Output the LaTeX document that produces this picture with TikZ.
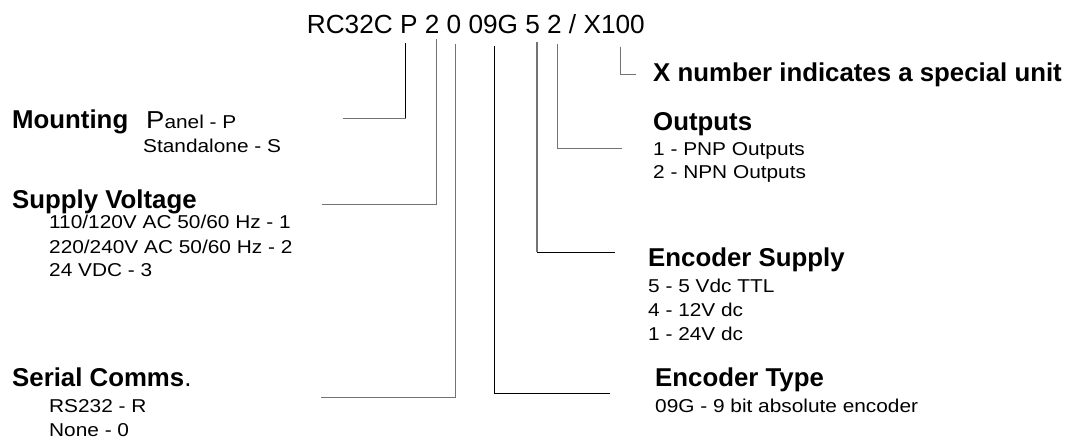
\documentclass[tikz,border=0pt]{standalone}
\usepackage{fontspec}
\setmainfont{Liberation Sans}
\newfontfamily\descfont[FakeStretch=1.12]{Liberation Sans}
\begin{document}
\begin{tikzpicture}[x=1pt,y=-1pt,
  txt/.style={anchor=base west,inner sep=0pt,font=\descfont\fontsize{18.6}{22}\selectfont},
  head/.style={anchor=base west,inner sep=0pt,font=\fontsize{25.8}{30}\selectfont\bfseries},
  code/.style={anchor=base west,inner sep=0pt,font=\fontsize{26.2}{30}\selectfont},
  gline/.style={draw=black!55,line width=1.1pt},
  bline/.style={draw=black,line width=0.9pt}]
\useasboundingbox[fill=white] (0,0) rectangle (1077,440);
% code
\node[code] (code) at (306.7,33.3) {RC32C P 2 0 09G 5 2 / X100};
% left labels
\node[head] (mount) at (12,128) {Mounting};
\node[txt] (panel) at (146,128) {{\fontsize{24.5}{30}\selectfont P}anel - P};
\node[txt] (stand) at (143,152.5) {Standalone - S};
\node[head] (supply) at (12,208) {Supply Voltage};
\node[txt] (sv1) at (49,228) {110/120V AC 50/60 Hz - 1};
\node[txt] (sv2) at (49,253) {220/240V AC 50/60 Hz - 2};
\node[txt] (sv3) at (49,276.5) {24 VDC - 3};
\node[head] (serial) at (12,386) {Serial Comms{\mdseries.}};
\node[txt] (sc1) at (49,412.5) {RS232 - R};
\node[txt] (sc2) at (49,436) {None - 0};
% right labels
\node[head] (xnum) at (653,81.7) {X number indicates a special unit};
\node[head] (outp) at (653,130) {Outputs};
\node[txt] (o1) at (653,155) {1 - PNP Outputs};
\node[txt] (o2) at (653,178.5) {2 - NPN Outputs};
\node[head] (esup) at (648,266) {Encoder Supply};
\node[txt] (e1) at (648,292) {5 - 5 Vdc TTL};
\node[txt] (e2) at (648,316.5) {4 - 12V dc};
\node[txt] (e3) at (648,340) {1 - 24V dc};
\node[head] (etype) at (655,386) {Encoder Type};
\node[txt] (et1) at (655,412.5) {09G - 9 bit absolute encoder};
% connector points
\coordinate (pT) at (405.7,43.3);   \coordinate (pC) at (405.7,118.3); \coordinate (pE) at (343,118.3);
\coordinate (vT) at (436.7,39);     \coordinate (vC) at (436.7,204.5); \coordinate (vE) at (321.5,204.5);
\coordinate (sT) at (455.7,44);     \coordinate (sC) at (455.7,397.7); \coordinate (sE) at (321,397.7);
\coordinate (gT) at (494.3,46);     \coordinate (gC) at (494.3,393.3); \coordinate (gE) at (610,393.3);
\coordinate (fT) at (537,42.3);     \coordinate (fC) at (537,252.3);   \coordinate (fE) at (615.3,252.3);
\coordinate (oT) at (557.7,44);     \coordinate (oC) at (557.7,148.3); \coordinate (oE) at (622,148.3);
\coordinate (xT) at (620.7,46.7);   \coordinate (xC) at (620.7,74.3);  \coordinate (xE) at (635.7,74.3);
% connectors
\draw[bline] (pT) -- (pC);
\draw[gline] (pC) -- (pE);
\draw[gline] (vT) -- (vC) -- (vE);
\draw[gline] (sT) -- (sC) -- (sE);
\draw[bline] (gT) -- (gC) -- (gE);
\draw[gline] (fT) -- (fC);
\draw[bline] (fC) -- (fE);
\draw[gline] (oT) -- (oC) -- (oE);
\draw[gline] (xT) -- (xC) -- (xE);
\end{tikzpicture}
\end{document}
